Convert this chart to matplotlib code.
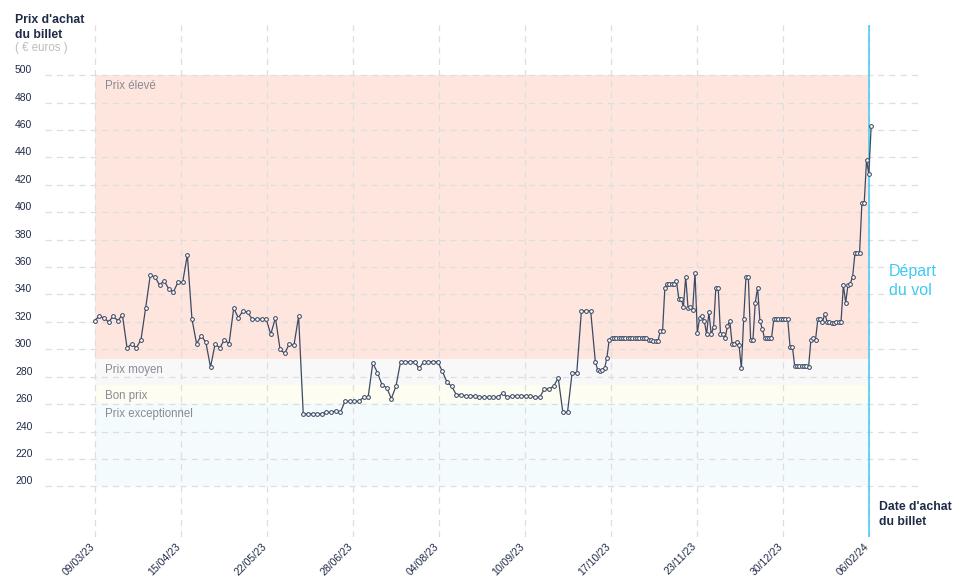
import numpy as np
import pandas as pd
import matplotlib
matplotlib.use("Agg")
import matplotlib.pyplot as plt
import matplotlib.dates as mdates
from matplotlib.transforms import ScaledTranslation, blended_transform_factory

plt.rcParams['font.family'] = ['Liberation Sans', 'DejaVu Sans']

# ---------------- data ----------------
# prices observed every 2 days from 09/03/23, then daily from 11/10/23
dates_every2 = pd.date_range('2023-03-09', periods=108, freq='2D')
prices_every2 = [
    321, 324, 323, 320, 324, 321, 325, 301, 304, 301,
    307, 330, 354, 353, 347, 350, 344, 342, 349, 349,
    369, 322, 304, 310, 305, 287, 304, 301, 307, 304,
    330, 323, 328, 327, 322, 322, 322, 322, 311, 323,
    300, 297, 304, 303, 324, 253, 253, 253, 253, 253,
    254, 254, 255, 254, 262, 262, 262, 262, 265, 265,
    290, 283, 274, 272, 264, 273, 291, 291, 291, 291,
    286, 291, 291, 291, 291, 284, 276, 273, 267, 267,
    266, 266, 266, 265, 265, 265, 265, 265, 268, 265,
    266, 266, 266, 266, 266, 265, 265, 271, 271, 273,
    279, 254, 254, 283, 283, 328, 328, 328,
]
dates_daily = pd.date_range('2023-10-11', periods=120, freq='D')
prices_daily = [
    291, 285, 284, 285, 286, 294,
    307,
    308, 308, 308, 308, 308, 308, 308, 308, 308, 308, 308, 308, 308, 308, 308, 308,
    307, 307, 306, 306, 306, 313, 313,
    345, 348, 348, 348, 348, 350, 337, 337,
    331, 353, 330, 331, 329, 356,
    312, 323, 324, 321, 311, 327,
    311, 316, 345, 345, 311, 311,
    308, 317, 321, 304, 304,
    305, 303, 286, 322, 353, 353, 307, 307,
    334, 345, 321, 315,
    308, 308, 308, 308,
    322, 322, 322, 322, 322, 322, 322,
    302, 302,
    288, 288, 288, 288, 288, 288,
    287, 307, 308, 307,
    322, 322, 320, 326, 320, 320, 319, 319,
    320, 320, 320,
    347, 334, 347, 348, 353,
    370, 370, 370, 407, 407,
    438, 428, 463,
]
assert len(prices_every2) == len(dates_every2)
assert len(prices_daily) == len(dates_daily)

tick_labels = ["09/03/23", "15/04/23", "22/05/23", "28/06/23", "04/08/23",
               "10/09/23", "17/10/23", "23/11/23", "30/12/23", "06/02/24"]
first_date = '2023-03-09'
flight_date = '2024-02-06'

band_names = ["Prix élevé", "Prix moyen", "Bon prix", "Prix exceptionnel"]
band_low = [292.7, 273.9, 260.6, 200]
band_high = [500, 292.7, 273.9, 260.6]
band_colors = ["#fee6df", "#f8f8f8", "#fdfdf1", "#f3fbfd"]

y_ticks = list(range(200, 501, 20))

# ---------------- figure ----------------
W, H = 958, 585
fig = plt.figure(figsize=(W / 100, H / 100), dpi=100)
ax = fig.add_axes([45 / W, 1 - 537 / H, (918 - 45) / W, (537 - 25) / H])

x0 = mdates.date2num(pd.Timestamp(first_date))
x_end = mdates.date2num(pd.Timestamp(flight_date))
ax.set_xlim(x0 - 21.4, x0 + 355.2)
ax.set_ylim(163.0, 536.7)

navy = "#1f2b47"
line_col = "#3d4a64"
cyan = "#40c9f3"

# bands
for name, lo, hi, c in zip(band_names, band_low, band_high, band_colors):
    ax.fill_between([x0, x_end], lo, hi, color=c, lw=0, zorder=0)
    ax.text(x0 + 4.5, hi - 7.8, name, fontsize=8.3, color="#8a8a96",
            va='center', ha='left', zorder=2)

# grid lines
for yv in y_ticks:
    ax.axhline(yv, color="#dedede", lw=0.9, ls=(0, (5, 4)), zorder=1)
ticks = np.linspace(x0, x_end, len(tick_labels))
for xv in ticks:
    ax.axvline(xv, color="#dedede", lw=0.9, ls=(0, (5, 4)), zorder=1)

# departure line
ax.axvline(x_end, color=cyan, lw=1.1, zorder=4)

# series
all_dates = list(dates_every2) + list(dates_daily)
all_prices = prices_every2 + prices_daily
ax.plot(mdates.date2num(pd.DatetimeIndex(all_dates)), all_prices,
        color=line_col, lw=0.9, marker='o', ms=2.7, mfc='white',
        mec=line_col, mew=0.75, zorder=5)

# axes styling
for s in ax.spines.values():
    s.set_visible(False)
ax.set_yticks([])
ax.set_xticks(ticks)
ax.set_xticklabels(tick_labels, rotation=45, ha='right', va='top',
                   rotation_mode='anchor', fontsize=7.6, color=navy)
ax.tick_params(axis='x', length=0, pad=3)
shift = ScaledTranslation(-5 / 100, 0, fig.dpi_scale_trans)
for lab in ax.get_xticklabels():
    lab.set_transform(lab.get_transform() + shift)

# y labels (left aligned, just above gridline)
ytrans = blended_transform_factory(fig.transFigure, ax.transData)
yoff = ytrans + ScaledTranslation(0, 2 / 100, fig.dpi_scale_trans)
for yv in y_ticks:
    fig.text(15 / W, yv, str(yv), transform=yoff, fontsize=7.5, color=navy,
             ha='left', va='baseline')

# titles
fig.text(15 / W, 1 - 23.3 / H, "Prix d'achat", fontsize=8.8, fontweight='bold',
         color=navy, ha='left', va='baseline')
fig.text(15 / W, 1 - 37.7 / H, "du billet", fontsize=8.8, fontweight='bold',
         color=navy, ha='left', va='baseline')
fig.text(15 / W, 1 - 50.7 / H, "( € euros )", fontsize=8.3, color="#bdbdbd",
         ha='left', va='baseline')

fig.text(879 / W, 1 - 510 / H, "Date d'achat", fontsize=8.8, fontweight='bold',
         color=navy, ha='left', va='baseline')
fig.text(879 / W, 1 - 525 / H, "du billet", fontsize=8.8, fontweight='bold',
         color=navy, ha='left', va='baseline')

fig.text(889 / W, 1 - 275.7 / H, "Départ", fontsize=11.5, color=cyan,
         ha='left', va='baseline')
fig.text(889 / W, 1 - 295 / H, "du vol", fontsize=11.5, color=cyan,
         ha='left', va='baseline')

fig.savefig("out.png", dpi=100)
